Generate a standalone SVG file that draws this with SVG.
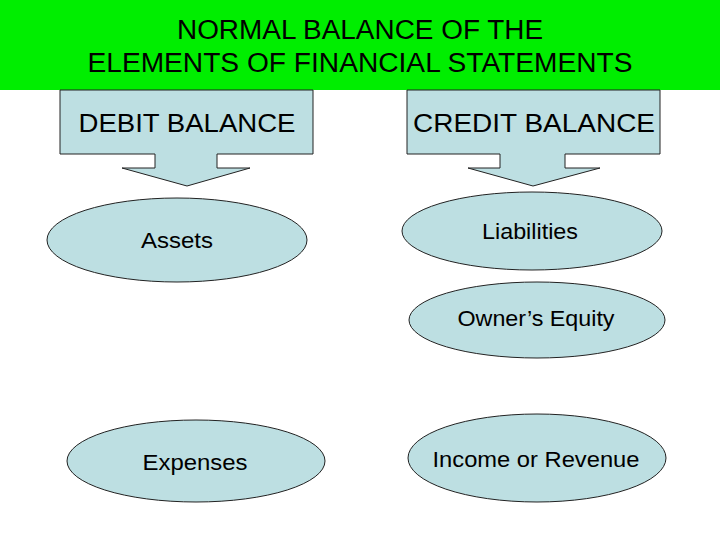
<svg xmlns="http://www.w3.org/2000/svg" width="720" height="540" viewBox="0 0 720 540">
  <style>
    .shape { fill: #BDDFE2; stroke: #222; stroke-width: 1; }
    .t { font-family: "Liberation Sans", Arial, sans-serif; fill: #000; text-anchor: middle; }
    .title { font-size: 27px; }
    .head { font-size: 26px; }
    .lbl { font-size: 22px; }
  </style>
  <rect x="0" y="0" width="720" height="540" fill="#fff"/>
  <g id="header">
    <rect x="0" y="0" width="720" height="90" fill="#00EE00"/>
    <text class="t title" x="360" y="39" textLength="366" lengthAdjust="spacingAndGlyphs">NORMAL BALANCE OF THE</text>
    <text class="t title" x="360" y="72" textLength="545" lengthAdjust="spacingAndGlyphs">ELEMENTS OF FINANCIAL STATEMENTS</text>
  </g>
  <g id="debit-balance">
    <path class="shape" d="M60,90 H313 V154 H217 V168 H250 L187,186 L122,168 H155 V154 H60 Z"/>
    <text class="t head" x="187" y="132" textLength="217" lengthAdjust="spacingAndGlyphs">DEBIT BALANCE</text>
  </g>
  <g id="credit-balance">
    <path class="shape" d="M407,90 H660 V154 H565 V168 H600 L533,186 L468,168 H500 V154 H407 Z"/>
    <text class="t head" x="534" y="132" textLength="242" lengthAdjust="spacingAndGlyphs">CREDIT BALANCE</text>
  </g>
  <g id="assets">
    <ellipse class="shape" cx="177" cy="240" rx="130" ry="42"/>
    <text class="t lbl" x="177" y="248" textLength="72" lengthAdjust="spacingAndGlyphs">Assets</text>
  </g>
  <g id="liabilities">
    <ellipse class="shape" cx="532" cy="231" rx="130" ry="39"/>
    <text class="t lbl" x="530" y="239" textLength="96" lengthAdjust="spacingAndGlyphs">Liabilities</text>
  </g>
  <g id="owners-equity">
    <ellipse class="shape" cx="537" cy="320" rx="128" ry="38"/>
    <text class="t lbl" x="536" y="326" textLength="157" lengthAdjust="spacingAndGlyphs">Owner’s Equity</text>
  </g>
  <g id="expenses">
    <ellipse class="shape" cx="196" cy="461" rx="129" ry="41"/>
    <text class="t lbl" x="195" y="470" textLength="105" lengthAdjust="spacingAndGlyphs">Expenses</text>
  </g>
  <g id="income-revenue">
    <ellipse class="shape" cx="537" cy="458" rx="129" ry="44"/>
    <text class="t lbl" x="536" y="467" textLength="207" lengthAdjust="spacingAndGlyphs">Income or Revenue</text>
  </g>
  <g id="connectors"></g>
</svg>
